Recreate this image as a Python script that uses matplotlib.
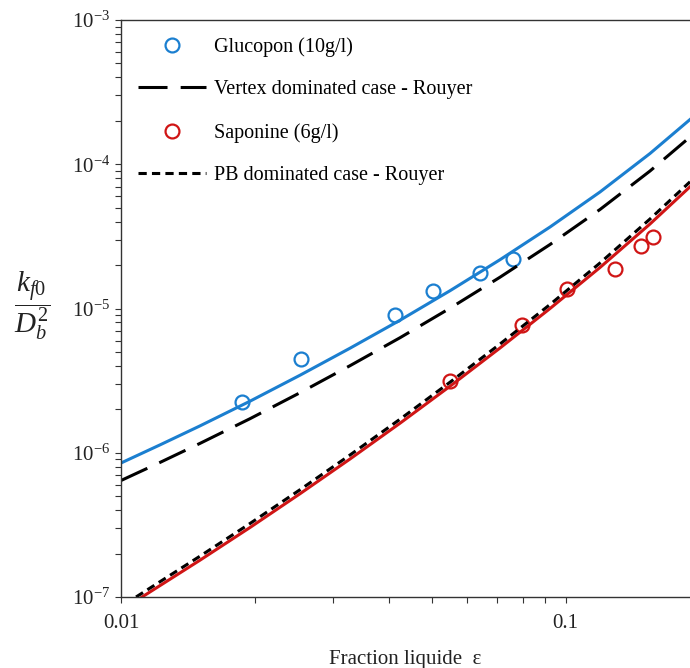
import matplotlib
matplotlib.use('Agg')
import matplotlib.pyplot as plt
from matplotlib.ticker import LogLocator, NullFormatter, FixedLocator, FixedFormatter

plt.rcParams['font.family'] = ['Liberation Serif', 'DejaVu Serif']
plt.rcParams['mathtext.fontset'] = 'custom'
plt.rcParams['mathtext.rm'] = 'Liberation Serif'
plt.rcParams['mathtext.it'] = 'Liberation Serif:italic'
plt.rcParams['axes.unicode_minus'] = False

# points expérimentaux
gluc_eps = [0.0187, 0.0254, 0.0413, 0.0503, 0.0642, 0.0761]
gluc_k = [2.25e-6, 4.47e-6, 9.0e-6, 1.32e-5, 1.76e-5, 2.2e-5]
sapo_eps = [0.0549, 0.0797, 0.1005, 0.129, 0.1475, 0.157]
sapo_k = [3.14e-6, 7.69e-6, 1.365e-5, 1.88e-5, 2.71e-5, 3.13e-5]

# courbes
fit_eps = [0.01, 0.01224, 0.01505, 0.0195, 0.02527, 0.03273, 0.04241,
           0.05494, 0.07116, 0.0922, 0.1194, 0.1547, 0.1903]
gluc_fit_k = [8.49e-7, 1.134e-6, 1.535e-6, 2.277e-6, 3.448e-6, 5.306e-6, 8.296e-6,
              1.3285e-5, 2.179e-5, 3.673e-5, 6.42e-5, 1.187e-4, 2.042e-4]
vertex_k = [6.42e-7, 8.57e-7, 1.161e-6, 1.722e-6, 2.608e-6, 4.013e-6, 6.274e-6,
            1.005e-5, 1.648e-5, 2.778e-5, 4.855e-5, 8.977e-5, 1.544e-4]

sapo_fit_eps = [0.01115, 0.01505, 0.0195, 0.02527, 0.03273, 0.04241,
                0.05494, 0.07116, 0.0922, 0.1194, 0.1547, 0.1903]
sapo_fit_k = [1.0e-7, 1.799e-7, 3.032e-7, 5.201e-7, 9.05e-7, 1.603e-6,
              2.893e-6, 5.323e-6, 1.0e-5, 1.924e-5, 3.853e-5, 6.978e-5]
pb_eps = [0.01081, 0.01505, 0.0195, 0.02527, 0.03273, 0.04241,
          0.05494, 0.07116, 0.0922, 0.1194, 0.1547, 0.1903]
pb_k = [1.0e-7, 1.918e-7, 3.232e-7, 5.544e-7, 9.647e-7, 1.709e-6,
        3.084e-6, 5.674e-6, 1.066e-5, 2.067e-5, 4.173e-5, 7.557e-5]

blue = '#1b7fd0'
red = '#d01515'

fig = plt.figure(figsize=(6.9, 6.68), dpi=100)
ax = fig.add_axes([121 / 690, 1 - 597 / 668, 1 - 121 / 690, 577 / 668])

ax.plot(fit_eps, gluc_fit_k, color=blue, lw=2.2)
ax.plot(gluc_eps, gluc_k, 'o', ms=10, mfc='none', mec=blue, mew=1.6, label='Glucopon (10g/l)')
ax.plot(fit_eps, vertex_k, color='black', lw=2.2, dashes=(9.5, 4.3),
        label='Vertex dominated case - Rouyer')
ax.plot(sapo_fit_eps, sapo_fit_k, color=red, lw=2.2)
ax.plot(sapo_eps, sapo_k, 'o', ms=10, mfc='none', mec=red, mew=1.6, label='Saponine (6g/l)')
ax.plot(pb_eps, pb_k, color='black', lw=2.2, dashes=(2.7, 1.7),
        label='PB dominated case - Rouyer')

ax.set_xscale('log')
ax.set_yscale('log')
ax.set_xlim(0.01, 0.1903)
ax.set_ylim(1e-7, 1e-3)

ax.xaxis.set_major_locator(FixedLocator([0.01, 0.1]))
ax.xaxis.set_major_formatter(FixedFormatter(['0.01', '0.1']))
ax.xaxis.set_minor_locator(LogLocator(base=10, subs=range(2, 10)))
ax.xaxis.set_minor_formatter(NullFormatter())
ax.yaxis.set_minor_locator(LogLocator(base=10, subs=range(2, 10)))
ax.yaxis.set_minor_formatter(NullFormatter())

ax.tick_params(which='major', direction='out', length=4.5, width=0.8, labelsize=15, colors='#333333',
               labelcolor='#222222')
ax.tick_params(which='minor', direction='out', length=4, width=0.8, colors='#333333')
ax.tick_params(axis='x', which='major', pad=8)

ax.spines['right'].set_visible(False)
for s in ['left', 'bottom', 'top']:
    ax.spines[s].set_color('#333333')
    ax.spines[s].set_linewidth(1.0)

ax.set_xlabel('Fraction liquide  ε', fontsize=15, color='#222222', labelpad=12)
ax.set_ylabel(r'$\dfrac{k_{f0}}{D_b^2}$', fontsize=21, rotation=0, color='#222222',
              va='center', ha='center')
ax.yaxis.set_label_coords(-0.157, 0.505)

leg = ax.legend(loc='upper left', frameon=False, fontsize=14.5, handlelength=3.4,
                handletextpad=0.4, labelspacing=1.17, bbox_to_anchor=(0.005, 0.995),
                borderaxespad=0.3)

fig.savefig('out.png', dpi=100)
